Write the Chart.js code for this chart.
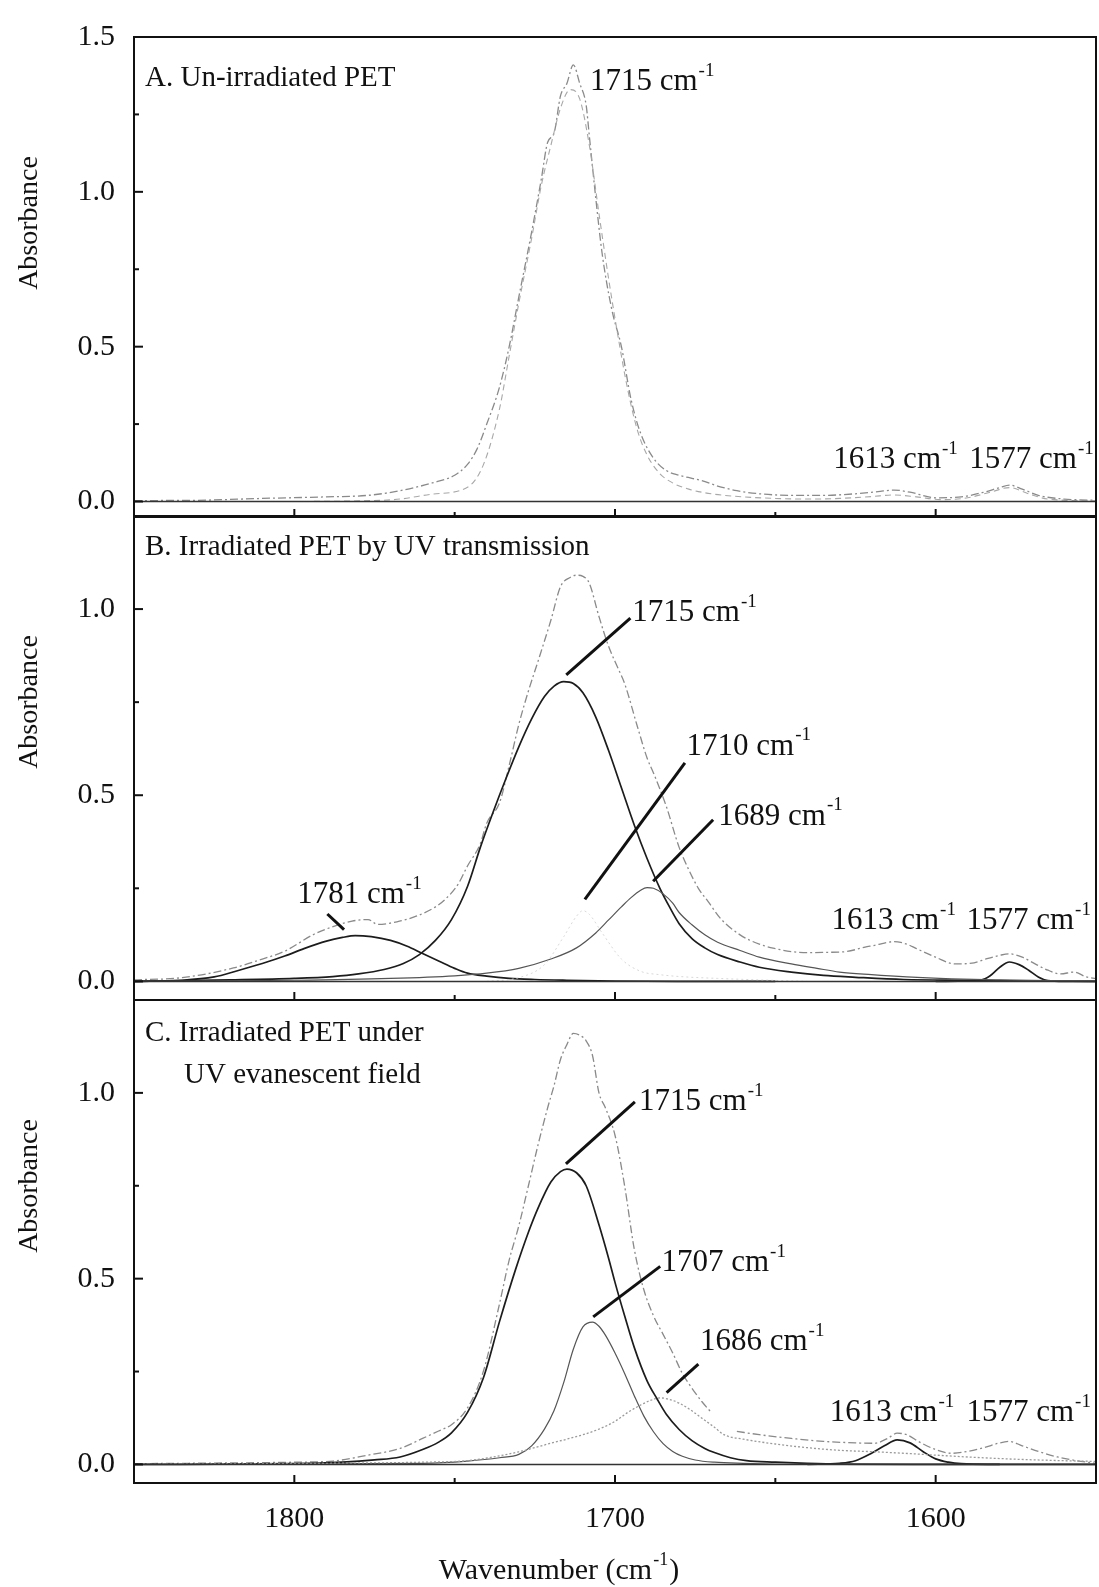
<!DOCTYPE html>
<html>
<head>
<meta charset="utf-8">
<script src="https://cdn.jsdelivr.net/npm/chart.js@4.4.1/dist/chart.umd.min.js"></script>
<style>
  html, body { margin: 0; padding: 0; background: #fff; }
  #wrap { position: relative; width: 1099px; height: 1587px; }
  canvas { position: absolute; left: 0; top: 0; }
</style>
</head>
<body>
<div id="wrap">
  <canvas id="panelA" width="1099" height="1587"></canvas>
  <canvas id="panelB" width="1099" height="1587"></canvas>
  <canvas id="panelC" width="1099" height="1587"></canvas>
</div>
<script>
// ---- data (wavenumber in cm-1, absorbance) ----
const xTickLabels = [1800, 1700, 1600];
const xMinorTicks = [1750, 1650];
const yTicksA = [0, 0.5, 1.0, 1.5];
const yMinorA = [0.25, 0.75, 1.25];
const yTicksBC = [0, 0.5, 1.0];
const yMinorBC = [0.25, 0.75];

const wnBase = [1850, 1550];
const absBase = [0, 0];

// panel A
const wnSpecA = [1850,1830,1810,1790,1777,1767,1757,1750,1746,1743,1740,1736,1733,1730,1726,1723,1721,1719,1717,1715,1713,1711,1709,1708,1706,1704,1701,1698,1695,1692,1688,1684,1680,1676,1673,1668,1662,1655,1645,1635,1625,1618,1613,1608,1600,1592,1585,1580,1577,1573,1568,1560,1550];
const absSpecA = [0.003,0.004,0.01,0.015,0.02,0.035,0.06,0.085,0.12,0.17,0.25,0.37,0.5,0.66,0.87,1.04,1.16,1.19,1.31,1.35,1.41,1.35,1.28,1.18,0.98,0.8,0.62,0.5,0.33,0.22,0.14,0.1,0.085,0.075,0.068,0.05,0.035,0.025,0.02,0.02,0.025,0.032,0.037,0.03,0.012,0.015,0.03,0.045,0.053,0.04,0.02,0.008,0.004];
const wnFitA = [1850,1810,1780,1767,1757,1746,1741,1736,1733,1730,1726,1723,1720,1717,1714,1711,1708,1705,1702,1699,1696,1693,1690,1686,1682,1677,1670,1660,1650,1640,1630,1620,1613,1606,1598,1590,1583,1577,1571,1565,1550];
const absFitA = [0,0,0.002,0.008,0.024,0.046,0.12,0.3,0.47,0.64,0.85,1.02,1.15,1.27,1.33,1.3,1.15,0.93,0.72,0.53,0.36,0.23,0.15,0.09,0.06,0.04,0.025,0.015,0.01,0.008,0.01,0.016,0.021,0.015,0.006,0.012,0.03,0.045,0.025,0.008,0.002];

// panel B
const wnSpecB = [1850,1835,1819,1810,1803,1794,1787,1782,1777,1774,1768,1762,1756,1753,1749,1746,1742,1740,1736,1733,1730,1727,1724,1720,1717,1714,1712,1710,1708,1705,1702,1699,1697,1693,1690,1688,1684,1680,1677,1674,1671,1667,1661,1655,1650,1645,1640,1634,1628,1622,1619,1616,1613,1609,1606,1600,1594,1588,1584,1580,1577,1573,1569,1565,1561,1557,1553,1550];
const absSpecB = [0.004,0.01,0.036,0.06,0.081,0.126,0.15,0.162,0.166,0.153,0.16,0.175,0.2,0.22,0.26,0.31,0.37,0.425,0.48,0.58,0.69,0.78,0.86,0.97,1.06,1.085,1.091,1.088,1.069,0.98,0.9,0.84,0.8,0.684,0.6,0.56,0.47,0.36,0.3,0.25,0.215,0.168,0.125,0.1,0.088,0.08,0.077,0.078,0.08,0.092,0.097,0.103,0.107,0.1,0.088,0.065,0.047,0.05,0.061,0.07,0.074,0.065,0.047,0.03,0.02,0.025,0.012,0.007];
const wn1715B = [1850,1820,1800,1788,1780,1772,1766,1761,1756,1751,1746,1742,1738,1734,1730,1726,1722,1719,1716,1713,1710,1706,1702,1698,1694,1690,1686,1683,1680,1676,1672,1668,1661,1655,1645,1635,1625,1610,1590,1570,1550];
const abs1715B = [0,0.004,0.008,0.013,0.02,0.032,0.048,0.072,0.11,0.166,0.255,0.36,0.455,0.545,0.63,0.705,0.765,0.793,0.805,0.8,0.775,0.71,0.62,0.52,0.42,0.33,0.25,0.2,0.155,0.115,0.09,0.072,0.052,0.038,0.025,0.016,0.011,0.005,0.003,0.001,0];
const wn1689B = [1850,1800,1770,1750,1740,1730,1720,1712,1706,1702,1698,1695,1692,1690,1688,1685,1682,1680,1676,1672,1668,1661,1655,1645,1637,1630,1620,1609,1595,1580,1565,1550];
const abs1689B = [0,0.003,0.008,0.015,0.022,0.035,0.06,0.09,0.13,0.165,0.2,0.225,0.245,0.252,0.25,0.235,0.21,0.185,0.152,0.125,0.105,0.083,0.065,0.047,0.035,0.025,0.018,0.012,0.007,0.004,0.002,0.001];
const wn1710B = [1740,1730,1722,1716,1712,1710,1708,1704,1698,1692,1686,1678,1668,1655,1640];
const abs1710B = [0,0.01,0.045,0.12,0.175,0.19,0.18,0.13,0.06,0.027,0.018,0.012,0.008,0.004,0];
const wn1781B = [1850,1835,1825,1818,1810,1803,1797,1790,1785,1781,1776,1770,1765,1760,1755,1750,1746,1740,1733,1725,1715,1700,1680,1650];
const abs1781B = [0,0.003,0.012,0.028,0.048,0.068,0.088,0.108,0.118,0.123,0.12,0.11,0.095,0.075,0.055,0.035,0.022,0.014,0.008,0.005,0.003,0.001,0,0];
const wn1577B = [1600,1590,1586,1583,1580,1577,1574,1571,1568,1565,1560,1550];
const abs1577B = [0,0.001,0.003,0.015,0.038,0.052,0.045,0.03,0.012,0.002,0,0];

// panel C
const wnSpecC = [1850,1820,1800,1788,1777,1767,1760,1755,1751,1746,1741,1736,1733,1730,1727,1724,1721,1719,1717,1715,1713,1711,1709,1707,1705,1703,1700,1697,1694,1691,1688,1685,1682,1679,1676,1673,1670,1666,1662,1655,1645,1635,1625,1619,1615,1612,1609,1605,1600,1595,1590,1585,1580,1577,1573,1568,1562,1556,1550];
const absSpecC = [0.002,0.004,0.006,0.009,0.025,0.043,0.07,0.09,0.107,0.152,0.252,0.433,0.55,0.642,0.75,0.86,0.96,1.02,1.09,1.13,1.16,1.155,1.14,1.1,1.0,0.96,0.886,0.75,0.58,0.47,0.4,0.35,0.3,0.245,0.205,0.17,0.14,null,0.089,0.08,0.07,0.062,0.058,0.057,0.07,0.084,0.08,0.06,0.04,0.03,0.035,0.045,0.058,0.062,0.05,0.035,0.02,0.01,0.003];
const wn1715C = [1850,1800,1785,1775,1767,1760,1755,1751,1746,1741,1736,1731,1727,1724,1720,1717,1715,1712,1709,1705,1702,1700,1697,1694,1690,1687,1684,1680,1676,1672,1669,1664,1659,1650,1640,1630,1600,1550];
const abs1715C = [0,0.002,0.006,0.012,0.02,0.04,0.06,0.085,0.14,0.234,0.385,0.525,0.625,0.69,0.76,0.788,0.795,0.785,0.75,0.645,0.555,0.49,0.4,0.315,0.225,0.178,0.135,0.094,0.064,0.043,0.032,0.018,0.01,0.006,0.003,0.001,0,0];
const wn1707C = [1850,1760,1746,1736,1730,1726,1722,1719,1716,1713,1710,1707,1705,1703,1700,1697,1694,1691,1688,1685,1682,1679,1675,1669,1660,1640,1550];
const abs1707C = [0,0.003,0.009,0.018,0.027,0.05,0.095,0.145,0.22,0.31,0.37,0.383,0.372,0.348,0.3,0.245,0.185,0.13,0.088,0.056,0.035,0.022,0.012,0.006,0.003,0,0];
const wn1686C = [1850,1790,1760,1746,1738,1730,1720,1715,1710,1705,1700,1696,1692,1689,1686,1683,1680,1677,1673,1669,1666,1660,1650,1640,1630,1619,1610,1600,1590,1575,1560,1550];
const abs1686C = [0,0.003,0.006,0.01,0.02,0.034,0.057,0.068,0.08,0.095,0.116,0.14,0.16,0.172,0.179,0.175,0.165,0.15,0.125,0.1,0.08,0.068,0.055,0.045,0.038,0.034,0.03,0.025,0.02,0.014,0.01,0.008];
const wn1613C = [1640,1630,1625,1620,1616,1612,1608,1604,1600,1596,1592,1580];
const abs1613C = [0,0.003,0.01,0.03,0.05,0.066,0.058,0.035,0.015,0.006,0.002,0];

// ---- styles ----
const SERIF = '"Liberation Serif", "Times New Roman", serif';
const SPEC = { borderColor: '#8a8a8a', borderWidth: 1.3, borderDash: [8, 3, 2, 3] };
const SPEC2 = { borderColor: '#a8a8a8', borderWidth: 1.1, borderDash: [6, 4] };
const COMP = { borderColor: '#1c1c1c', borderWidth: 1.7 };
const THIN = { borderColor: '#555', borderWidth: 1.2 };
const DOTS = { borderColor: '#9a9a9a', borderWidth: 1.3, borderDash: [2, 2] };
const FAINT = { borderColor: '#d8d8d8', borderWidth: 1, borderDash: [2, 3] };
const BASE = { borderColor: '#333', borderWidth: 1.5 };

function pts(wn, ab) { return wn.map((w, i) => ({ x: w, y: ab[i] })); }

function drawCm(ctx, x, y, num) {
    ctx.font = '31px ' + SERIF;
    ctx.textAlign = 'left';
    ctx.textBaseline = 'middle';
    const main = num + ' cm';
    ctx.fillText(main, x, y);
    const w = ctx.measureText(main).width;
    ctx.font = '19px ' + SERIF;
    ctx.fillText('-1', x + w + 1, y - 11);
}

// box, inward tick marks
const framePlugin = {
    id: 'frame',
    afterDraw(chart, args, o) {
        const { ctx, chartArea: a, scales: { x, y } } = chart;
        ctx.save();
        ctx.strokeStyle = '#111';
        ctx.lineWidth = 2;
        ctx.strokeRect(a.left, a.top, a.right - a.left, a.bottom - a.top);
        const seg = (x1, y1, x2, y2) => { ctx.beginPath(); ctx.moveTo(x1, y1); ctx.lineTo(x2, y2); ctx.stroke(); };
        o.yMajor.forEach(v => { const p = y.getPixelForValue(v); seg(a.left, p, a.left + 9, p); });
        o.yMinor.forEach(v => { const p = y.getPixelForValue(v); seg(a.left, p, a.left + 5, p); });
        xTickLabels.forEach(v => { const p = x.getPixelForValue(v); seg(p, a.bottom, p, a.bottom - 8); });
        xMinorTicks.forEach(v => { const p = x.getPixelForValue(v); seg(p, a.bottom, p, a.bottom - 5); });
        ctx.restore();
    }
};

// titles, peak labels and leader lines
const notesPlugin = {
    id: 'notes',
    afterDatasetsDraw(chart, args, o) {
        const { ctx, chartArea: a, scales: { x, y } } = chart;
        ctx.save();
        ctx.fillStyle = '#111';
        ctx.strokeStyle = '#111';
        ctx.font = '29px ' + SERIF;
        ctx.textAlign = 'left';
        ctx.textBaseline = 'middle';
        o.title.forEach(t => ctx.fillText(t.text, a.left + t.dx, a.top + t.dy));

        ctx.lineWidth = 3;
        o.leaders.forEach(l => {
            ctx.beginPath();
            ctx.moveTo(x.getPixelForValue(l[0]), y.getPixelForValue(l[1]));
            ctx.lineTo(x.getPixelForValue(l[2]), y.getPixelForValue(l[3]));
            ctx.stroke();
        });
        o.peaks.forEach(p => drawCm(ctx, x.getPixelForValue(p.wn), y.getPixelForValue(p.y), p.text));

        // y axis title
        ctx.save();
        ctx.translate(30, a.top + 186);
        ctx.rotate(-Math.PI / 2);
        ctx.font = '28px ' + SERIF;
        ctx.textAlign = 'center';
        ctx.fillText('Absorbance', 0, 0);
        ctx.restore();

        if (o.xTitle) {
            ctx.font = '30px ' + SERIF;
            const t1 = 'Wavenumber (cm', t2 = '-1', t3 = ')';
            const w1 = ctx.measureText(t1).width, w3 = ctx.measureText(t3).width;
            ctx.font = '18px ' + SERIF;
            const w2 = ctx.measureText(t2).width;
            const sx = 559 - (w1 + w2 + w3 + 2) / 2;
            const cy = 1571;
            ctx.font = '30px ' + SERIF;
            ctx.fillText(t1, sx, cy);
            ctx.font = '18px ' + SERIF;
            ctx.fillText(t2, sx + w1 + 1, cy - 11);
            ctx.font = '30px ' + SERIF;
            ctx.fillText(t3, sx + w1 + w2 + 2, cy);
        }
        ctx.restore();
    }
};

function panel(id, cfg) {
    return new Chart(document.getElementById(id), {
        type: 'line',
        data: {
            datasets: cfg.series.map(s => Object.assign({
                data: pts(s[0], s[1]),
                pointRadius: 0,
                fill: false,
                spanGaps: false,
                cubicInterpolationMode: 'monotone'
            }, s[2]))
        },
        options: {
            animation: false,
            responsive: false,
            events: [],
            layout: { padding: cfg.padding },
            scales: {
                x: {
                    type: 'linear', min: 1550, max: 1850, reverse: true,
                    display: cfg.showX,
                    grid: { display: false, drawTicks: false },
                    border: { display: false },
                    afterBuildTicks: s => { s.ticks = xTickLabels.map(v => ({ value: v })); },
                    afterFit: s => { s.height = cfg.showX ? 60 : 0; },
                    ticks: {
                        font: { family: SERIF, size: 30 }, color: '#111', padding: 18,
                        maxRotation: 0, autoSkip: false, callback: v => String(v)
                    }
                },
                y: {
                    min: -0.05, max: cfg.yMax,
                    grid: { display: false, drawTicks: false },
                    border: { display: false },
                    afterBuildTicks: s => { s.ticks = cfg.yTicks.map(v => ({ value: v })); },
                    afterFit: s => { s.width = 134; },
                    ticks: {
                        font: { family: SERIF, size: 30 }, color: '#111', padding: 19,
                        callback: v => v.toFixed(1)
                    }
                }
            },
            plugins: {
                legend: { display: false },
                tooltip: { enabled: false },
                frame: { yMajor: cfg.yTicks, yMinor: cfg.yMinor },
                notes: { title: cfg.title, leaders: cfg.leaders, peaks: cfg.peaks, xTitle: cfg.showX }
            }
        },
        plugins: [framePlugin, notesPlugin]
    });
}

panel('panelA', {
    padding: { left: 0, right: 3, top: 31, bottom: 1070 },
    yMax: 1.5, yTicks: yTicksA, yMinor: yMinorA, showX: false,
    series: [
        [wnBase, absBase, BASE],
        [wnFitA, absFitA, SPEC2],
        [wnSpecA, absSpecA, SPEC]
    ],
    title: [{ text: 'A. Un-irradiated PET', dx: 11, dy: 41 }],
    leaders: [],
    peaks: [
        { wn: 1707.8, y: 1.354, text: '1715' },
        { wn: 1631.9, y: 0.134, text: '1613' },
        { wn: 1589.5, y: 0.134, text: '1577' }
    ]
});

panel('panelB', {
    padding: { left: 0, right: 3, top: 516, bottom: 587 },
    yMax: 1.25, yTicks: yTicksBC, yMinor: yMinorBC, showX: false,
    series: [
        [wnBase, absBase, BASE],
        [wn1710B, abs1710B, FAINT],
        [wn1689B, abs1689B, THIN],
        [wn1781B, abs1781B, COMP],
        [wn1715B, abs1715B, COMP],
        [wn1577B, abs1577B, COMP],
        [wnSpecB, absSpecB, SPEC]
    ],
    title: [{ text: 'B. Irradiated PET by UV transmission', dx: 11, dy: 31 }],
    leaders: [
        [1715.2, 0.823, 1695.2, 0.976],
        [1709.4, 0.22, 1678.2, 0.587],
        [1688.1, 0.269, 1669.4, 0.434],
        [1789.7, 0.181, 1784.5, 0.139]
    ],
    peaks: [
        { wn: 1694.6, y: 0.989, text: '1715' },
        { wn: 1677.7, y: 0.631, text: '1710' },
        { wn: 1667.8, y: 0.443, text: '1689' },
        { wn: 1799.1, y: 0.233, text: '1781' },
        { wn: 1632.5, y: 0.162, text: '1613' },
        { wn: 1590.4, y: 0.162, text: '1577' }
    ]
});

panel('panelC', {
    padding: { left: 0, right: 3, top: 1000, bottom: 44 },
    yMax: 1.25, yTicks: yTicksBC, yMinor: yMinorBC, showX: true,
    series: [
        [wnBase, absBase, BASE],
        [wn1686C, abs1686C, DOTS],
        [wn1707C, abs1707C, THIN],
        [wn1715C, abs1715C, COMP],
        [wn1613C, abs1613C, COMP],
        [wnSpecC, absSpecC, SPEC]
    ],
    title: [
        { text: 'C. Irradiated PET under', dx: 11, dy: 33 },
        { text: 'UV evanescent field', dx: 50, dy: 75 }
    ],
    leaders: [
        [1715.3, 0.809, 1693.8, 0.976],
        [1706.8, 0.397, 1685.9, 0.533],
        [1683.9, 0.193, 1674, 0.27]
    ],
    peaks: [
        { wn: 1692.5, y: 0.976, text: '1715' },
        { wn: 1685.5, y: 0.542, text: '1707' },
        { wn: 1673.5, y: 0.329, text: '1686' },
        { wn: 1633, y: 0.139, text: '1613' },
        { wn: 1590.4, y: 0.139, text: '1577' }
    ]
});
</script>
</body>
</html>
